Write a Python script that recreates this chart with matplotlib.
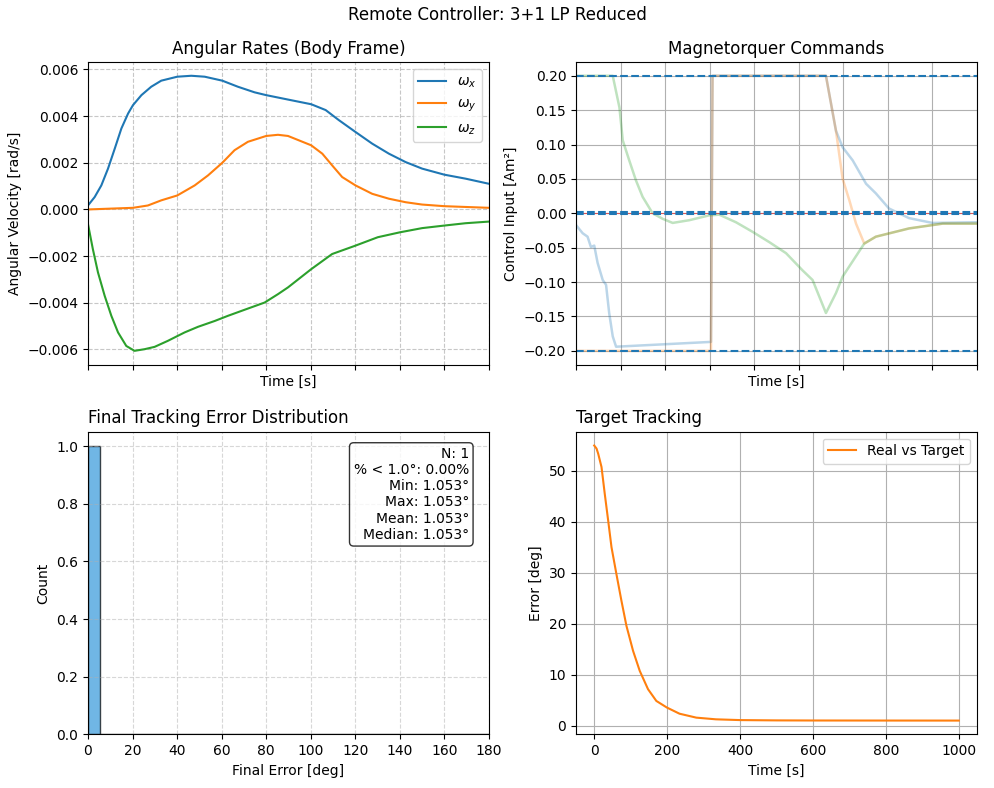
import matplotlib
matplotlib.use("Agg")
import matplotlib.pyplot as plt
import numpy as np

# angular rates (body frame)
t_wx = [0, 3, 6, 9, 12, 15, 18, 20.2, 24, 28.4, 32.9, 40.1, 46.4, 52.4, 60.3, 67.3,
        74.8, 80, 89.8, 100.2, 106.7, 112.6, 120.1, 127.6, 135.1, 142.6, 150, 160,
        169.5, 180]
wx = [0.00017, 0.00053, 0.00103, 0.00175, 0.0026, 0.00347, 0.00411, 0.00447,
      0.0049, 0.00526, 0.00552, 0.00569, 0.00573, 0.00569, 0.00552, 0.00526,
      0.00502, 0.0049, 0.00471, 0.00451, 0.00426, 0.00383, 0.00332, 0.00282,
      0.00239, 0.00203, 0.00175, 0.00149, 0.00132, 0.0011]
t_wy = [0, 20.2, 26.9, 32.9, 40.1, 47.9, 53.9, 60.3, 65.8, 71.8, 80, 85.3, 89.8,
        100.2, 105.2, 109.6, 114.1, 120.1, 127.6, 135.1, 142.6, 150, 160, 180]
wy = [0.0, 0.00007, 0.00017, 0.00039, 0.0006, 0.00103, 0.00146, 0.002, 0.00254,
      0.0029, 0.00315, 0.0032, 0.00315, 0.00275, 0.00239, 0.00189, 0.00139,
      0.00103, 0.00067, 0.00046, 0.00031, 0.00021, 0.00014, 0.00007]
t_wz = [0, 2.2, 4.5, 7.5, 10.5, 13.5, 17.2, 20.9, 25.4, 29.9, 35.9, 43.4, 49.4,
        56.9, 62.8, 70.3, 79.3, 85.3, 89.8, 100.2, 109.6, 120.1, 130.1, 140, 150,
        160, 169.5, 180]
wz = [-0.00062, -0.0017, -0.0027, -0.0037, -0.00456, -0.00527, -0.00585,
      -0.00606, -0.00599, -0.00589, -0.00563, -0.00527, -0.00503, -0.00478,
      -0.00456, -0.0043, -0.00399, -0.00363, -0.00334, -0.00256, -0.00191,
      -0.00155, -0.00119, -0.00098, -0.0008, -0.00069, -0.00059, -0.00052]

# magnetorquer commands
t_mx = [0, 3, 5.2, 6.7, 8.2, 9.7, 12, 13.5, 14.9, 16.5, 18, 60.6, 61.3, 112.2,
        116.7, 119.7, 124.2, 130.2, 134.6, 140.5, 149.5, 160, 180]
mx = [-0.017, -0.029, -0.034, -0.049, -0.047, -0.072, -0.097, -0.104, -0.145,
      -0.179, -0.194, -0.187, 0.2, 0.2, 0.12, 0.096, 0.077, 0.043, 0.029, 0.007,
      -0.007, -0.014, -0.013]
t_my = [0, 60.6, 61.3, 112.2, 116.7, 119.7, 122.7, 125.7, 129.4, 134.6, 149.5,
        164.6, 180]
my = [-0.2, -0.2, 0.2, 0.2, 0.12, 0.05, 0.019, -0.015, -0.044, -0.034, -0.022,
      -0.015, -0.015]
t_mz = [0, 16.5, 19.5, 21, 23.9, 26.9, 29.9, 34.4, 38.9, 43.4, 50.9, 59.8, 64.3,
        71.8, 79.3, 86.8, 94.3, 101.7, 106.2, 112.2, 116.7, 119.7, 129.4, 134.6,
        149.5, 164.6, 180]
mz = [0.2, 0.2, 0.154, 0.106, 0.077, 0.048, 0.024, 0.0, -0.008, -0.014, -0.010,
      -0.003, -0.002, -0.013, -0.027, -0.042, -0.058, -0.083, -0.097, -0.145,
      -0.116, -0.092, -0.044, -0.034, -0.022, -0.015, -0.015]
m_max = 0.2
deadband = 0.0017

# tracking error
t_err = [0, 6.4, 10.9, 20, 29, 38.3, 47.4, 61, 74.7, 88.4, 106.6, 124.8, 147.6,
         170.4, 199.5, 234, 280, 334, 400, 500, 600, 800, 1000]
err = [54.9, 54.3, 53.3, 50.7, 45.4, 40.2, 35.0, 29.7, 24.5, 19.6, 14.7, 10.8,
       7.2, 4.9, 3.6, 2.4, 1.63, 1.3, 1.15, 1.09, 1.07, 1.06, 1.053]

final_errors = [1.053]
threshold = 1.0

fig, axs = plt.subplots(2, 2, figsize=(9.95, 7.88), dpi=100)
fig.subplots_adjust(left=0.0884, right=0.9819, top=0.9213, bottom=0.0681,
                    wspace=0.217, hspace=0.222)
fig.suptitle("Remote Controller: 3+1 LP Reduced", y=0.992)

ax_w, ax_m = axs[0]
ax_h, ax_e = axs[1]
ax_w.sharex(ax_h)
ax_m.sharex(ax_h)

# angular rates
ax_w.plot(t_wx, wx, label=r"$\omega_x$")
ax_w.plot(t_wy, wy, label=r"$\omega_y$")
ax_w.plot(t_wz, wz, label=r"$\omega_z$")
ax_w.set_title("Angular Rates (Body Frame)")
ax_w.set_xlabel("Time [s]")
ax_w.set_ylabel("Angular Velocity [rad/s]")
ax_w.legend(loc="upper right")
ax_w.grid(True, linestyle="--", alpha=0.7)
ax_w.tick_params(labelbottom=False)

# magnetorquer commands
ax_m.plot(t_mx, mx, color="C0", alpha=0.3, lw=1.8)
ax_m.plot(t_my, my, color="C1", alpha=0.3, lw=1.8)
ax_m.plot(t_mz, mz, color="C2", alpha=0.3, lw=1.8)
ax_m.axhline(0, color="r", lw=0.8, alpha=0.5)
for lvl in (m_max, -m_max, deadband, -deadband):
    ax_m.axhline(lvl, color="C0", linestyle="--", lw=1.5)
ax_m.set_title("Magnetorquer Commands")
ax_m.set_xlabel("Time [s]")
ax_m.set_ylabel("Control Input [Am²]")
ax_m.grid(True)
ax_m.tick_params(labelbottom=False)

# histogram of final errors
bins = np.linspace(0, 180, 33)
ax_h.hist(final_errors, bins=bins, color="#3498db", alpha=0.7, edgecolor="black")
ax_h.set_xlim(0, 180)
ax_h.set_xticks(np.arange(0, 181, 20))
ax_h.set_title("Final Tracking Error Distribution", loc="left")
ax_h.set_xlabel("Final Error [deg]")
ax_h.set_ylabel("Count")
ax_h.grid(True, linestyle="--", alpha=0.5)
fe = np.array(final_errors)
stats = (f"N: {len(fe)}\n"
         f"% < {threshold:.1f}°: {100 * np.mean(fe < threshold):.2f}%\n"
         f"Min: {fe.min():.3f}°\n"
         f"Max: {fe.max():.3f}°\n"
         f"Mean: {fe.mean():.3f}°\n"
         f"Median: {np.median(fe):.3f}°")
ax_h.text(0.95, 0.95, stats, transform=ax_h.transAxes, ha="right", va="top",
          bbox=dict(boxstyle="round", facecolor="white", alpha=0.8))

# target tracking
ax_e.plot(t_err, err, color="C1", label="Real vs Target")
ax_e.set_title("Target Tracking", loc="left")
ax_e.set_xlabel("Time [s]")
ax_e.set_ylabel("Error [deg]")
ax_e.legend(loc="upper right")
ax_e.grid(True)

fig.savefig("out.png", dpi=100)
